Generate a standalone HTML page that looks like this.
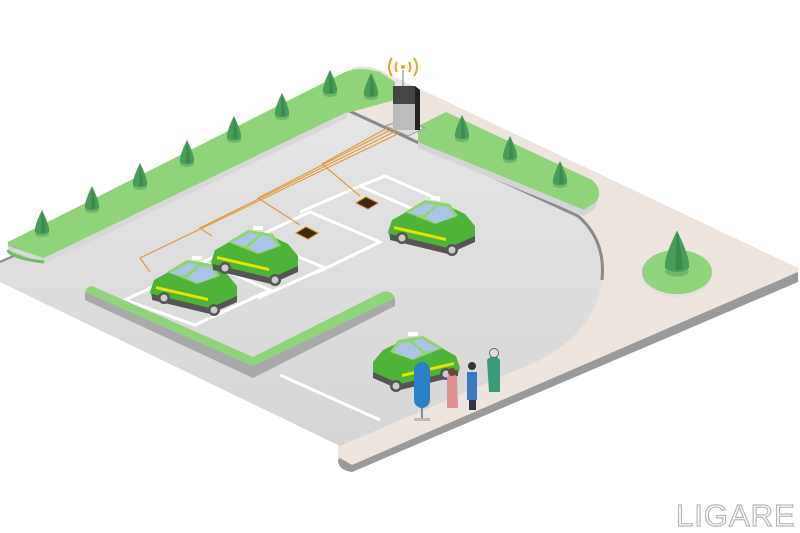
<!DOCTYPE html>
<html><head><meta charset="utf-8"><style>
html,body{margin:0;padding:0;background:#fff;width:800px;height:533px;overflow:hidden}
svg{display:block}
</style></head><body>
<svg width="800" height="533" viewBox="0 0 800 533" xmlns="http://www.w3.org/2000/svg">
<defs>
<linearGradient id="lot" x1="0" y1="0" x2="0" y2="1"><stop offset="0" stop-color="#e4e4e4"/><stop offset="1" stop-color="#d6d6d6"/></linearGradient>
<g id="tree"><ellipse cx="0" cy="2" rx="7" ry="3" fill="#6fb86a"/><path d="M0,-22 C4,-14 8,-4 7,0 C4,3 -4,3 -7,0 C-8,-4 -4,-14 0,-22Z" fill="#4a9c5a"/><path d="M0,-22 C2,-12 4,-4 3,1 L-1,1 Z" fill="#3d8a4d"/></g>
<g id="car">
<path d="M-42,0 L-38,-12 L-20,-22 L10,-30 L35,-18 L45,-6 L45,6 L18,18 L-40,6Z" fill="#4fb33a"/>
<path d="M-40,2 L18,16 L45,4 L45,10 L18,22 L-40,8Z" fill="#555"/>
<path d="M-36,-6 L16,6 L16,9 L-36,-3Z" fill="#e4e600"/>
<path d="M-25,-20 L-5,-32 L20,-28 L28,-16 L5,-8Z" fill="#8fd56a"/>
<path d="M-22,-19 L-4,-29 L6,-27 L-8,-16Z M-5,-14 L8,-26 L18,-25 L25,-16 L6,-9Z" fill="#a9c4e6"/>
<rect x="0" y="-36" width="10" height="4" fill="#fff"/>
<circle cx="-28" cy="6" r="6" fill="#555"/><circle cx="-28" cy="6" r="3.5" fill="#ccc"/>
<circle cx="22" cy="18" r="6" fill="#555"/><circle cx="22" cy="18" r="3.5" fill="#ccc"/>
</g>
</defs>

<path d="M352,68 Q365,64 380,70 L798,268 L798,282 L352,472 Q338,470 338,460 L338,452 Z" fill="#ece4dd"/>
<path d="M798,272 L798,282 L352,472 Q338,470 338,460 L340,458 L352,465 L798,272Z" fill="#9a9a9a"/>

<path d="M0,260 L347,110 L578,216 Q606,240 602,280 Q596,330 540,360 L340,446 L0,282Z" fill="url(#lot)"/>
<path d="M347,110 L578,216 Q606,240 602,280" fill="none" stroke="#8a8a8a" stroke-width="3"/>
<path d="M0,262 L347,112" stroke="#8a8a8a" stroke-width="2"/>

<path d="M8,242 L345,72 Q360,66 380,72 L395,82 L395,100 L347,113 L44,258 Q10,260 8,250Z" fill="#8fd37a"/>
<path d="M8,250 L44,264 L347,118 L347,112 L44,258 L8,246Z" fill="#d8d8d8"/>
<path d="M8,250 Q10,258 44,262" fill="none" stroke="#6fbf5e" stroke-width="3"/>

<path d="M418,126 L446,112 L592,180 Q604,190 596,202 L584,210 L418,142Z" fill="#8fd37a"/>
<path d="M418,142 L584,210 L596,202 L596,208 L584,216 L418,148Z" fill="#d4d4d4"/>

<ellipse cx="677" cy="275" rx="35" ry="22" fill="#e0e0e0"/>
<ellipse cx="677" cy="272" rx="35" ry="22" fill="#8fd37a"/>

<g fill="none" stroke="#fff" stroke-width="3">
<path d="M125,300 L205,262 L270,290 L195,325Z"/>
<path d="M185,270 L255,238 L325,268 L258,298"/>
<path d="M245,242 L310,212 L380,242 L318,272"/>
<path d="M300,212 L360,186 L415,210"/>
<path d="M360,186 L385,176 L440,200"/>
<path d="M280,375 L380,420"/>
</g>

<path d="M85,300 L253,378 L395,306 L395,298 L253,366 L85,292Z" fill="#a9a9a9"/>
<path d="M85,292 Q86,287 92,286 L253,357 L382,292 Q392,290 395,298 L253,366 L85,292Z" fill="#8fd37a"/>

<g fill="none" stroke="#e09a40" stroke-width="1.2">
<path d="M410,128 L140,258 L150,272"/>
<path d="M406,126 L200,228 L212,236"/>
<path d="M402,124 L258,198 L300,225"/>
<path d="M398,122 L322,164 L360,196"/>
</g>
<path d="M296,233 L306,227 L318,233 L308,239Z" fill="#3a2a10" stroke="#d08020"/>
<path d="M356,203 L366,197 L378,203 L368,209Z" fill="#3a2a10" stroke="#d08020"/>

<use href="#tree" x="42" y="232"/><use href="#tree" x="92" y="208"/><use href="#tree" x="140" y="185"/><use href="#tree" x="187" y="162"/><use href="#tree" x="234" y="138"/><use href="#tree" x="282" y="115"/><use href="#tree" x="330" y="92"/><use href="#tree" x="371" y="95"/>
<use href="#tree" x="462" y="137"/><use href="#tree" x="510" y="158"/><use href="#tree" x="560" y="183"/>
<g transform="translate(677,268) scale(1.7)"><use href="#tree"/></g>

<path d="M385,126 L408,136 L425,128 L402,120Z" fill="#ddd" stroke="#999"/>
<rect x="393" y="86" width="22" height="44" fill="#444"/>
<rect x="393" y="104" width="22" height="26" fill="#bbb"/>
<path d="M415,86 L420,90 L420,130 L415,130Z" fill="#222"/>
<line x1="403" y1="86" x2="403" y2="70" stroke="#8ab" stroke-width="1.5"/>
<g fill="none" stroke="#f0a020" stroke-width="2"><path d="M397,62 Q394,67 397,72"/><path d="M392,58 Q386,67 392,76"/><path d="M409,62 Q412,67 409,72"/><path d="M414,58 Q420,67 414,76"/></g>
<circle cx="403" cy="67" r="2" fill="#f0a020"/>

<use href="#car" x="192" y="292"/>
<use href="#car" x="253" y="262"/>
<use href="#car" x="430" y="232"/>
<g transform="translate(418,368) scale(-1,1)"><use href="#car"/></g>

<rect x="414" y="362" width="16" height="46" rx="8" fill="#2c80c8"/>
<rect x="421" y="408" width="2" height="12" fill="#888"/>
<rect x="414" y="418" width="16" height="3" fill="#bbb"/>
<path d="M447,377 Q452,370 457,377 L458,408 L447,408Z" fill="#e09090"/><circle cx="452" cy="372" r="4" fill="#6a4a3a"/>
<path d="M467,372 L477,372 L477,400 L467,400Z" fill="#3a78c0"/><circle cx="472" cy="366" r="4" fill="#333"/>
<rect x="469" y="400" width="7" height="10" fill="#334"/>
<path d="M487,360 Q494,352 500,360 L500,392 L489,392Z" fill="#3a9a7a"/><circle cx="494" cy="353" r="4.5" fill="#ddd" stroke="#666"/>

<text x="676" y="526" font-family="Liberation Sans, sans-serif" font-size="31" fill="#fff" stroke="#b8b8b8" stroke-width="1.2" letter-spacing="1">LIGARE</text>
</svg>
</body></html>
